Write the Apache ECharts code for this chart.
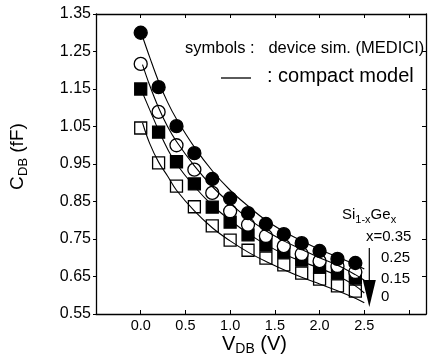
<!DOCTYPE html>
<html>
<head>
<meta charset="utf-8">
<script src="https://cdn.jsdelivr.net/npm/echarts@6/dist/echarts.min.js"></script>
<style>
  html, body { margin: 0; padding: 0; background: #fff; }
  #cdb-chart { width: 429px; height: 360px; }
</style>
</head>
<body>
<div id="cdb-chart"></div>
<script>
// device simulation points (MEDICI), V_DB in volts, C_DB in fF
const simVdb = [0.0, 0.2, 0.4, 0.6, 0.8, 1.0, 1.2, 1.4, 1.6, 1.8, 2.0, 2.2, 2.4];
const simX35 = [1.300, 1.155, 1.051, 0.979, 0.910, 0.858, 0.819, 0.790, 0.763, 0.739, 0.718, 0.697, 0.686];
const simX25 = [1.217, 1.089, 1.000, 0.935, 0.873, 0.824, 0.788, 0.758, 0.731, 0.710, 0.691, 0.678, 0.662];
const simX15 = [1.150, 1.035, 0.956, 0.897, 0.835, 0.795, 0.761, 0.734, 0.715, 0.694, 0.675, 0.659, 0.646];
const simX00 = [1.046, 0.953, 0.891, 0.836, 0.785, 0.747, 0.720, 0.699, 0.681, 0.659, 0.643, 0.625, 0.611];

// compact model curves
const modelVdb = [0.02, 0.1, 0.2, 0.3, 0.4, 0.6, 0.8, 1.0, 1.2, 1.4, 1.6, 1.8, 2.0, 2.2, 2.4, 2.5];
const modelX35 = [1.290, 1.235, 1.170, 1.115, 1.070, 0.995, 0.932, 0.880, 0.838, 0.800, 0.770, 0.745, 0.722, 0.702, 0.682, 0.670];
const modelX25 = [1.215, 1.160, 1.100, 1.050, 1.010, 0.945, 0.890, 0.845, 0.805, 0.772, 0.745, 0.722, 0.700, 0.680, 0.655, 0.640];
const modelX15 = [1.140, 1.095, 1.040, 0.990, 0.950, 0.890, 0.840, 0.800, 0.765, 0.735, 0.710, 0.690, 0.672, 0.652, 0.625, 0.606];
const modelX00 = [1.060, 1.005, 0.955, 0.918, 0.880, 0.825, 0.780, 0.745, 0.715, 0.690, 0.668, 0.648, 0.630, 0.612, 0.592, 0.580];

// x = 0.35 -> 0 arrow
const arrowVdb = 2.556;
const arrowTop = 0.726;
const arrowTip = 0.569;

const xTickLabels = ['0.0', '0.5', '1.0', '1.5', '2.0', '2.5'];

const FONT = '"Liberation Sans", Arial, sans-serif';

function zip(xs, ys) {
  return xs.map((x, i) => [x, ys[i]]);
}

let chartDom = document.getElementById('cdb-chart');
let myChart = echarts.init(chartDom, null, { renderer: 'canvas' });

function simSeries(name, values, symbol, filled, z) {
  return {
    name: name,
    type: 'scatter',
    data: zip(simVdb, values),
    symbol: symbol,
    symbolSize: symbol === 'circle' ? 13 : 12,
    itemStyle: {
      color: filled ? '#000' : '#fff',
      borderColor: '#000',
      borderWidth: 1.3,
      opacity: 1,
    },
    z: z,
    silent: true,
  };
}

function modelSeries(values) {
  return {
    type: 'line',
    data: zip(modelVdb, values),
    smooth: 0.4,
    symbol: 'none',
    lineStyle: { color: '#000', width: 1.1 },
    z: 10,
    silent: true,
  };
}

// rotated y-axis title, reading bottom to top
function yTitlePart(text, x, y, size) {
  return {
    type: 'text',
    x: x,
    y: y,
    rotation: Math.PI / 2,
    style: { text: text, font: size + 'px ' + FONT, fill: '#000', align: 'left', verticalAlign: 'middle' },
  };
}

let option = {
  animation: false,
  backgroundColor: '#fff',
  grid: { left: 96, top: 14, right: 1, bottom: 46 },
  xAxis: [
    {
      type: 'value',
      min: -0.5,
      max: 3.19,
      interval: 0.5,
      position: 'bottom',
      axisLine: { onZero: false, lineStyle: { color: '#000', width: 1.3 } },
      axisTick: { inside: true, length: 4, lineStyle: { color: '#000' } },
      axisLabel: {
        color: '#000',
        fontFamily: FONT,
        fontSize: 14.5,
        margin: 4,
        formatter: (v) => {
          let s = v.toFixed(1);
          return xTickLabels.includes(s) ? s : '';
        },
      },
      splitLine: { show: false },
    },
    {
      type: 'value',
      min: -0.5,
      max: 3.19,
      interval: 0.5,
      position: 'top',
      axisLine: { onZero: false, lineStyle: { color: '#000', width: 1.3 } },
      axisTick: { inside: true, length: 4, lineStyle: { color: '#000' } },
      axisLabel: { show: false },
      splitLine: { show: false },
    },
  ],
  yAxis: [
    {
      type: 'value',
      min: 0.55,
      max: 1.35,
      interval: 0.1,
      position: 'left',
      axisLine: { show: true, onZero: false, lineStyle: { color: '#000', width: 1.3 } },
      axisTick: { show: true, inside: false, length: 3, lineStyle: { color: '#000' } },
      axisLabel: {
        color: '#000',
        fontFamily: FONT,
        fontSize: 16,
        margin: 5,
        formatter: (v) => v.toFixed(2),
      },
      splitLine: { show: false },
    },
    {
      type: 'value',
      min: 0.55,
      max: 1.35,
      interval: 0.1,
      position: 'right',
      axisLine: { show: true, onZero: false, lineStyle: { color: '#000', width: 1.3 } },
      axisTick: { show: true, inside: true, length: 4, lineStyle: { color: '#000' } },
      axisLabel: { show: false },
      splitLine: { show: false },
    },
  ],
  series: [
    simSeries('x=0', simX00, 'rect', false, 2),
    simSeries('x=0.15', simX15, 'rect', true, 3),
    simSeries('x=0.25', simX25, 'circle', false, 4),
    simSeries('x=0.35', simX35, 'circle', true, 5),
    modelSeries(modelX35),
    modelSeries(modelX25),
    modelSeries(modelX15),
    modelSeries(modelX00),
    {
      type: 'line',
      data: [[arrowVdb, arrowTop], [arrowVdb, arrowTip + 0.04]],
      symbol: 'none',
      lineStyle: { color: '#000', width: 1.2 },
      z: 11,
      silent: true,
    },
    {
      type: 'scatter',
      data: [[arrowVdb, arrowTip + 0.036]],
      symbol: 'triangle',
      symbolRotate: 180,
      symbolSize: [13, 27],
      itemStyle: { color: '#000', opacity: 1 },
      z: 11,
      silent: true,
    },
  ],
  graphic: [
    {
      type: 'text',
      left: 185,
      top: 40,
      style: { text: 'symbols :   device sim. (MEDICI)', font: '16.5px ' + FONT, fill: '#000' },
    },
    {
      type: 'line',
      shape: { x1: 221, y1: 78, x2: 251, y2: 78 },
      style: { stroke: '#000', lineWidth: 1.3 },
    },
    {
      type: 'text',
      left: 267,
      top: 66,
      style: { text: ': compact model', font: '20px ' + FONT, fill: '#000' },
    },
    {
      type: 'text',
      left: 342,
      top: 204,
      style: {
        text: '{a|Si}{b|1-x}{a|Ge}{b|x}',
        fill: '#000',
        rich: {
          a: { fontFamily: FONT, fontSize: 15, verticalAlign: 'top', lineHeight: 18 },
          b: { fontFamily: FONT, fontSize: 11, verticalAlign: 'bottom', lineHeight: 11, padding: [10, 0, 0, 0] },
        },
      },
    },
    {
      type: 'text',
      left: 366,
      top: 229,
      style: { text: 'x=0.35', font: '15px ' + FONT, fill: '#000' },
    },
    {
      type: 'text',
      left: 381,
      top: 250,
      style: { text: '0.25', font: '15px ' + FONT, fill: '#000' },
    },
    {
      type: 'text',
      left: 381,
      top: 271,
      style: { text: '0.15', font: '15px ' + FONT, fill: '#000' },
    },
    {
      type: 'text',
      left: 381,
      top: 289,
      style: { text: '0', font: '15px ' + FONT, fill: '#000' },
    },
    {
      type: 'text',
      left: 222,
      top: 330,
      style: {
        text: '{a|V}{b|DB}{a| (V)}',
        fill: '#000',
        rich: {
          a: { fontFamily: FONT, fontSize: 20, verticalAlign: 'top', lineHeight: 22 },
          b: { fontFamily: FONT, fontSize: 14, verticalAlign: 'bottom', lineHeight: 14, padding: [12, 0, 0, 0] },
        },
      },
    },
    yTitlePart('C', 18, 190, 19),
    yTitlePart('DB', 23, 176, 13),
    yTitlePart(' (fF)', 18, 158, 19),
  ],
};

myChart.setOption(option);
</script>
</body>
</html>
